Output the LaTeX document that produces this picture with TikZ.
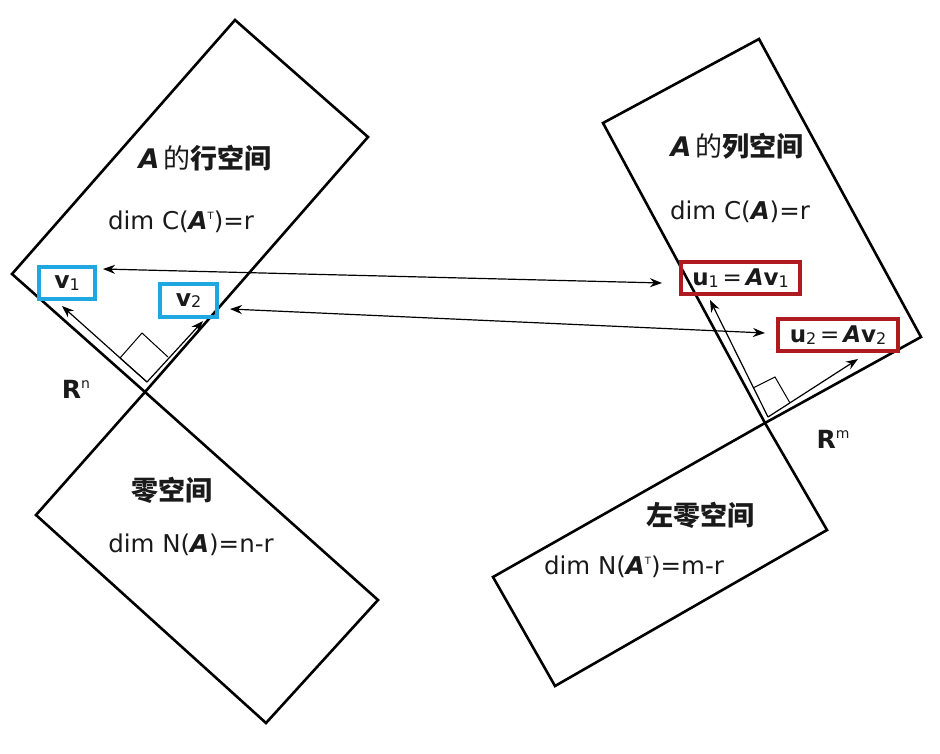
\documentclass[tikz,border=0pt]{standalone}
\usepackage{fontspec}
\setmainfont{DejaVu Sans}
\newfontfamily\cjk{Noto Sans CJK SC}
\usetikzlibrary{arrows.meta}
\definecolor{vblue}{HTML}{1FA8E0}
\definecolor{ured}{HTML}{AE1A1F}
\definecolor{ink}{HTML}{1A1A1A}
\newcommand\BoldA{\textbf{\textit{A}}}
\newcommand\SupT{\raisebox{0.75ex}{\fontsize{10}{10}\selectfont T}}
\newcommand\SubN[1]{\raisebox{-0.1ex}{\fontsize{16}{16}\selectfont #1}}
\tikzset{
  space/.style={draw=black, line width=2.6pt, line join=miter},
  lbl/.style={font=\fontsize{24.5}{28}\selectfont, inner sep=0pt, text=ink},
  ttl/.style={font=\fontsize{27}{30}\selectfont, inner sep=0pt, text=ink},
  vbox/.style={draw=vblue, line width=3.5pt, inner sep=0pt, font=\fontsize{23.5}{26}\selectfont, text=ink},
  ubox/.style={draw=ured, line width=3.5pt, inner sep=0pt, font=\fontsize{23}{26}\selectfont, text=ink},
  vec/.style={line width=1.2pt, -{Stealth[length=12pt,width=9pt]}},
  link/.style={line width=1.2pt, {Stealth[length=12pt,width=9pt]}-{Stealth[length=12pt,width=9pt]}},
  rangle/.style={line width=1pt},
  rlbl/.style={font=\fontsize{25}{28}\selectfont, inner sep=0pt, text=ink}
}
\begin{document}
\begin{tikzpicture}[x=1pt,y=-1pt]
\useasboundingbox (0,0) rectangle (940,753);
% corners
\coordinate (T1) at (235,20);
\coordinate (R1) at (368,137);
\coordinate (O1) at (145,392);
\coordinate (L1) at (12,274);
\coordinate (L2) at (36,515);
\coordinate (B2) at (266,723);
\coordinate (R2) at (378,600);
\coordinate (TL3) at (603,123);
\coordinate (TR3) at (759,39);
\coordinate (R3) at (921,337);
\coordinate (O2) at (765,423);
\coordinate (R4) at (827,530);
\coordinate (B4) at (555,686);
\coordinate (L4) at (493,577);
% the four subspaces
\draw[space] (T1) -- (R1) -- (O1) -- (L1) -- cycle;
\draw[space] (O1) -- (R2) -- (B2) -- (L2) -- cycle;
\draw[space] (TL3) -- (TR3) -- (R3) -- (O2) -- cycle;
\draw[space] (O2) -- (R4) -- (B4) -- (L4) -- cycle;
% texts
\node[ttl] (t1) at (205,158) {\BoldA\hspace{4pt}{\cjk 的}{\cjk\bfseries 行空间}};
\node[lbl] (d1) at (181,222) {dim C(\BoldA\SupT)=r};
\node[ttl] (t2) at (737,146) {\BoldA\hspace{4pt}{\cjk 的}{\cjk\bfseries 列空间}};
\node[lbl] (d2) at (740,212) {dim C(\BoldA)=r};
\node[ttl] (t3) at (172,490) {\cjk\bfseries 零空间};
\node[lbl] (d3) at (191,545) {dim N(\BoldA)=n-r};
\node[ttl] (t4) at (700,515) {\cjk\bfseries 左零空间};
\node[lbl] (d4) at (634,567) {dim N(\BoldA\SupT)=m-r};
\node[rlbl] (rn) at (76,389) {\textbf{R}\raisebox{0.7ex}{\fontsize{14}{14}\selectfont n}};
\node[rlbl] (rm) at (833,439) {\textbf{R}\raisebox{0.7ex}{\fontsize{14}{14}\selectfont m}};
% vector boxes
\node[vbox, minimum width=56pt, minimum height=32pt] (v1) at (67,283) {\textbf{v}\SubN{1}};
\node[vbox, minimum width=57pt, minimum height=33pt] (v2) at (188.5,300.5) {\textbf{v}\SubN{2}};
\node[ubox, minimum width=119pt, minimum height=32pt] (u1) at (740.5,278) {\textbf{u}\SubN{1}\,=\,\BoldA\textbf{v}\SubN{1}};
\node[ubox, minimum width=120pt, minimum height=32pt] (u2) at (838,335) {\textbf{u}\SubN{2}\,=\,\BoldA\textbf{v}\SubN{2}};
% basis vectors and right angles
\coordinate (S1) at (147,382);
\coordinate (v1t) at (62,306);
\coordinate (v2t) at (203,321);
\draw[vec] (S1) -- (v1t);
\draw[vec] (S1) -- (v2t);
\draw[rangle] (S1) -- (120,358) -- (142,333) -- (168,357);
\coordinate (S2) at (768,417);
\coordinate (u1t) at (710,300);
\coordinate (u2t) at (858,359);
\draw[vec] (S2) -- (u1t);
\draw[vec] (S2) -- (u2t);
\draw[rangle] (753,388) -- (775,377) -- (790,403);
% links between v and u
\coordinate (a1) at (103,269);
\coordinate (b1) at (662,283);
\coordinate (a2) at (230,309);
\coordinate (b2) at (765,333);
\draw[link] (a1) -- (b1);
\draw[link] (a2) -- (b2);
\end{tikzpicture}
\end{document}
